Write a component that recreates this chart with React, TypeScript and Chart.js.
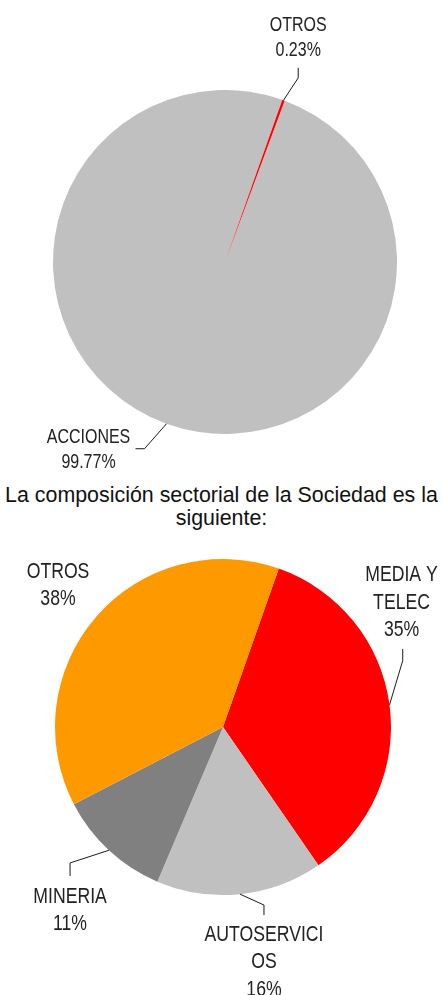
import React, { useEffect, useRef } from "react";
import { Chart, registerables } from "chart.js";

Chart.register(...registerables);

// ---- Data ----
const TOP_CATEGORIES = ["ACCIONES", "OTROS"];
const TOP_VALUES = [99.77, 0.23];
const TOP_PERCENT_LABELS = ["99.77%", "0.23%"];
const TOP_COLORS = ["#C0C0C0", "#FF0000"];

const SECTOR_CATEGORIES = ["MEDIA Y TELEC", "AUTOSERVICIOS", "MINERIA", "OTROS"];
const SECTOR_VALUES = [35, 16, 11, 38];
const SECTOR_LABEL_LINES = [["MEDIA Y", "TELEC"], ["AUTOSERVICI", "OS"], ["MINERIA"], ["OTROS"]];
const SECTOR_PERCENT_LABELS = ["35%", "16%", "11%", "38%"];
const SECTOR_COLORS = ["#FF0000", "#C0C0C0", "#808080", "#FF9900"];

const INTRO_LINES = ["La composición sectorial de la Sociedad es la", "siguiente:"];

// ---- Label plugin (outside labels with leader lines) ----
const outsideLabels = {
  id: "outsideLabels",
  afterDraw(chart: any, _args: any, opts: any) {
    const meta = chart.getDatasetMeta(0);
    const ctx: CanvasRenderingContext2D = chart.ctx;
    const items = opts.items || [];
    meta.data.forEach((arc: any, i: number) => {
      const cfg = items[i];
      if (!cfg) return;
      const p = arc.getProps(["x", "y", "startAngle", "endAngle", "outerRadius"], true);
      const mid = (p.startAngle + p.endAngle) / 2;
      const ax = p.x + Math.cos(mid) * p.outerRadius;
      const ay = p.y + Math.sin(mid) * p.outerRadius;
      ctx.save();
      if (cfg.leader) {
        ctx.beginPath();
        ctx.moveTo(ax, ay);
        cfg.leader.forEach(([dx, dy]: number[]) => ctx.lineTo(ax + dx, ay + dy));
        ctx.strokeStyle = "#1a1a1a";
        ctx.lineWidth = 1;
        ctx.stroke();
      }
      ctx.fillStyle = "#222222";
      ctx.font = `${opts.fontSize}px "Liberation Sans", Arial, sans-serif`;
      ctx.textAlign = "center";
      ctx.textBaseline = "middle";
      cfg.lines.forEach((line: string, k: number) => {
        ctx.save();
        ctx.translate(ax + cfg.dx, ay + cfg.dy + k * opts.lineHeight);
        ctx.scale(0.82, 1);
        ctx.fillText(line, 0, 0);
        ctx.restore();
      });
      ctx.restore();
    });
  },
};

function PieChart(props: {
  width: number;
  height: number;
  top: number;
  labels: string[];
  values: number[];
  colors: string[];
  rotation: number;
  padding: { left: number; right: number; top: number; bottom: number };
  items: any[];
  fontSize: number;
  lineHeight: number;
}) {
  const ref = useRef<HTMLCanvasElement | null>(null);
  useEffect(() => {
    if (!ref.current) return;
    const chart = new Chart(ref.current, {
      type: "pie",
      data: {
        labels: props.labels,
        datasets: [
          {
            data: props.values,
            backgroundColor: props.colors,
            borderWidth: 0,
          },
        ],
      },
      options: {
        responsive: false,
        animation: false,
        rotation: props.rotation,
        layout: { padding: props.padding },
        plugins: {
          legend: { display: false },
          tooltip: { enabled: false },
          outsideLabels: {
            items: props.items,
            fontSize: props.fontSize,
            lineHeight: props.lineHeight,
          },
        } as any,
      },
      plugins: [outsideLabels],
    });
    return () => chart.destroy();
  }, []);
  return (
    <canvas
      ref={ref}
      width={props.width}
      height={props.height}
      style={{ position: "absolute", left: 0, top: props.top, width: props.width, height: props.height }}
    />
  );
}

export default function App() {
  const topItems = [
    {
      lines: [TOP_CATEGORIES[0], TOP_PERCENT_LABELS[0]],
      dx: -78,
      dy: 14,
      leader: [
        [-22, 25],
        [-31, 25],
      ],
    },
    {
      lines: [TOP_CATEGORIES[1], TOP_PERCENT_LABELS[1]],
      dx: 14.7,
      dy: -75,
      leader: [
        [14.7, -22.4],
        [14.7, -32.4],
      ],
    },
  ];
  const sectorItems = [
    {
      lines: [...SECTOR_LABEL_LINES[0], SECTOR_PERCENT_LABELS[0]],
      dx: 12,
      dy: -129.5,
      leader: [
        [13.2, -44.1],
        [13.2, -55.8],
      ],
    },
    {
      lines: [...SECTOR_LABEL_LINES[1], SECTOR_PERCENT_LABELS[1]],
      dx: 24,
      dy: 40.5,
      leader: [
        [24, 10.9],
        [24, 20.9],
      ],
    },
    {
      lines: [...SECTOR_LABEL_LINES[2], SECTOR_PERCENT_LABELS[2]],
      dx: -38.8,
      dy: 46.5,
      leader: [
        [-38.8, 12.7],
        [-38.8, 25.7],
      ],
    },
    {
      lines: [...SECTOR_LABEL_LINES[3], SECTOR_PERCENT_LABELS[3]],
      dx: -38.2,
      dy: -45,
      leader: null,
    },
  ];

  return (
    <div style={{ position: "absolute", left: 0, top: 0, width: 443, height: 995, background: "#fff" }}>
      <PieChart
        width={443}
        height={470}
        top={0}
        labels={TOP_CATEGORIES}
        values={TOP_VALUES}
        colors={TOP_COLORS}
        rotation={20.3}
        padding={{ left: 53, right: 46, top: 90, bottom: 36 }}
        items={topItems}
        fontSize={19.5}
        lineHeight={25}
      />
      <div
        style={{
          position: "absolute",
          left: 0,
          top: 484,
          width: 443,
          textAlign: "center",
          fontFamily: '"Liberation Sans", Arial, sans-serif',
          fontSize: 21.4,
          lineHeight: "23px",
          whiteSpace: "nowrap",
          color: "#111",
        }}
      >
        {INTRO_LINES[0]}
        <br />
        {INTRO_LINES[1]}
      </div>
      <PieChart
        width={443}
        height={455}
        top={540}
        labels={SECTOR_CATEGORIES}
        values={SECTOR_VALUES}
        colors={SECTOR_COLORS}
        rotation={19.4}
        padding={{ left: 55, right: 52, top: 19, bottom: 100 }}
        items={sectorItems}
        fontSize={21.5}
        lineHeight={27.5}
      />
    </div>
  );
}
